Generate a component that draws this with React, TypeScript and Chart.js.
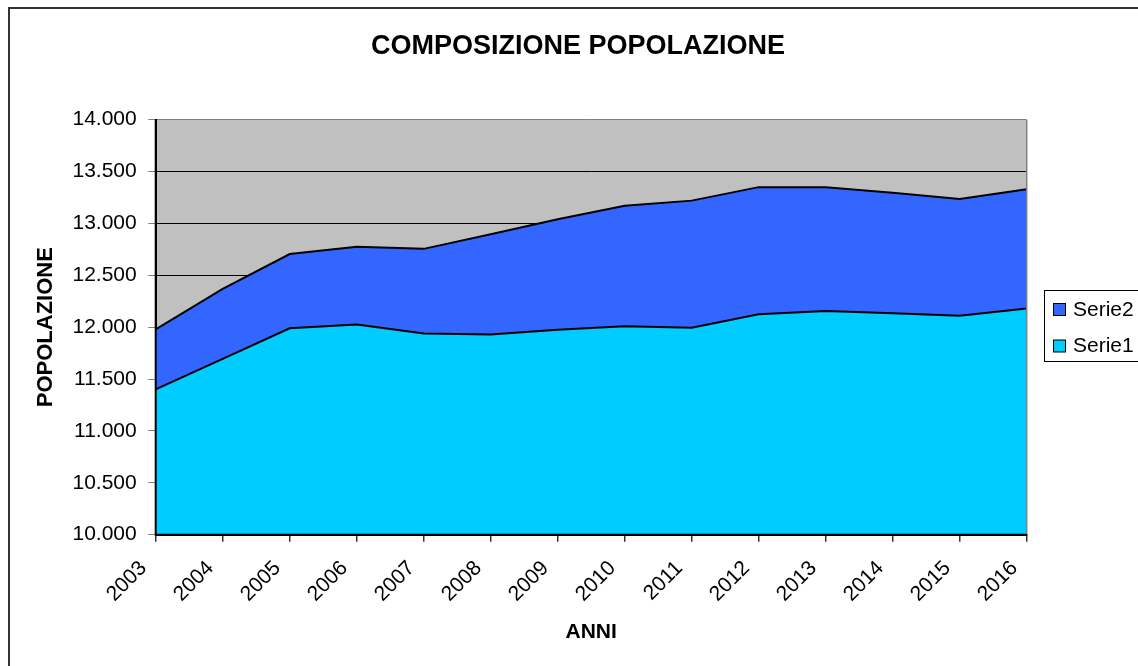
import React, { useEffect, useRef } from 'react';
import { Chart, registerables } from 'chart.js';

Chart.register(...registerables);

const years = ['2003', '2004', '2005', '2006', '2007', '2008', '2009', '2010', '2011', '2012', '2013', '2014', '2015', '2016'];
const serie1 = [11400, 11695, 11990, 12025, 11940, 11930, 11975, 12010, 11995, 12125, 12155, 12135, 12110, 12180];
const serie2 = [580, 675, 715, 750, 815, 965, 1065, 1160, 1225, 1225, 1195, 1160, 1125, 1150];
const seriesNames = ['Serie1', 'Serie2'];
const yMin = 10000;
const yMax = 14000;
const yStep = 500;
const chartTitle = 'COMPOSIZIONE POPOLAZIONE';
const xTitle = 'ANNI';
const yTitle = 'POPOLAZIONE';

const FONT = '"Liberation Sans", Arial, sans-serif';
const COLOR1 = '#00CCFF';
const COLOR2 = '#3366FF';
const PLOT_BG = '#C0C0C0';

const fmt = (v: number) => String(v).replace(/\B(?=(\d{3})+(?!\d))/g, '.');

const decor = {
  id: 'decor',
  beforeDraw(chart: any) {
    const { ctx, chartArea: a, width, height } = chart;
    ctx.save();
    ctx.fillStyle = '#fff';
    ctx.fillRect(0, 0, width, height);
    ctx.fillStyle = PLOT_BG;
    ctx.fillRect(a.left, a.top, a.right - a.left, a.bottom - a.top);
    ctx.restore();
  },
  afterDatasetsDraw(chart: any) {
    const { ctx, chartArea: a } = chart;
    ctx.save();
    ctx.strokeStyle = '#808080';
    ctx.lineWidth = 1.5;
    ctx.beginPath();
    ctx.moveTo(a.right, a.top);
    ctx.lineTo(a.right, a.bottom);
    ctx.stroke();
    ctx.strokeStyle = '#000';
    ctx.lineWidth = 2;
    ctx.beginPath();
    ctx.moveTo(a.left, a.top);
    ctx.lineTo(a.left, a.bottom);
    ctx.lineTo(a.right, a.bottom);
    ctx.stroke();
    ctx.restore();
  },
  afterDraw(chart: any) {
    const { ctx } = chart;
    ctx.save();
    // title
    ctx.fillStyle = '#000';
    ctx.font = `bold 27px ${FONT}`;
    ctx.textAlign = 'center';
    ctx.textBaseline = 'middle';
    ctx.fillText(chartTitle, 568, 38);
    // legend
    ctx.strokeStyle = '#000';
    ctx.lineWidth = 1;
    ctx.strokeRect(1034.5, 281.5, 130, 71);
    const items = chart.data.datasets.slice().reverse();
    ctx.font = `21px ${FONT}`;
    ctx.textAlign = 'left';
    items.forEach((ds: any, i: number) => {
      const y = 294.5 + i * 36.5;
      ctx.fillStyle = ds.backgroundColor;
      ctx.fillRect(1043.5, y, 12, 12);
      ctx.strokeRect(1043.5, y, 12, 12);
      ctx.fillStyle = '#000';
      ctx.fillText(ds.label, 1063, y + 6.5);
    });
    ctx.restore();
  },
};

export default function App() {
  const ref = useRef<HTMLCanvasElement>(null);
  useEffect(() => {
    if (!ref.current) return;
    const chart = new Chart(ref.current, {
      type: 'line',
      data: {
        labels: years,
        datasets: [
          {
            label: seriesNames[0],
            data: serie1,
            backgroundColor: COLOR1,
            borderColor: '#000',
            borderWidth: 2,
            pointRadius: 0,
            fill: 'start',
            tension: 0,
          },
          {
            label: seriesNames[1],
            data: serie2,
            backgroundColor: COLOR2,
            borderColor: '#000',
            borderWidth: 2,
            pointRadius: 0,
            fill: '-1',
            tension: 0,
          },
        ],
      },
      options: {
        animation: false,
        responsive: false,
        devicePixelRatio: 1,
        layout: { padding: { top: 110.7, right: 111.3, left: 0, bottom: 0 } },
        plugins: {
          legend: { display: false },
          title: { display: false },
          tooltip: { enabled: false },
          filler: { propagate: false },
        },
        scales: {
          x: {
            offset: false,
            afterFit: (s: any) => { s.height = 131.3; },
            ticks: {
              color: '#000',
              font: { family: FONT, size: 21 },
              minRotation: 45,
              maxRotation: 45,
              autoSkip: false,
              padding: 2,
              callback: (_v: any, i: number) => years[i] + '   ',
            },
            grid: { drawOnChartArea: false, tickLength: 7, tickColor: '#333', lineWidth: 1.5 },
            border: { color: '#000', width: 2 },
            title: {
              display: true,
              text: xTitle,
              color: '#000',
              font: { family: FONT, size: 21, weight: 'bold' },
              padding: { top: 0, bottom: 20.9 },
            },
          },
          y: {
            stacked: true,
            min: yMin,
            max: yMax,
            afterFit: (s: any) => { s.width = 145.7; },
            ticks: {
              stepSize: yStep,
              color: '#000',
              font: { family: FONT, size: 21 },
              padding: 11.5,
              callback: (v: any) => fmt(Number(v)),
            },
            grid: {
              color: (c: any) => (c.tick && c.tick.value === yMax ? '#808080' : '#000'),
              lineWidth: 1,
              tickLength: 7.5,
              tickColor: '#808080',
            },
            border: { color: '#000', width: 2 },
            title: {
              display: true,
              text: yTitle,
              color: '#000',
              font: { family: FONT, size: 22, weight: 'bold' },
              padding: { top: 22.3, bottom: 0 },
            },
          },
        },
      },
      plugins: [decor],
    } as any);
    return () => chart.destroy();
  }, []);

  return (
    <div
      style={{
        position: 'absolute',
        left: 8,
        top: 7,
        width: 1130,
        height: 659,
        borderLeft: '2px solid #333',
        borderTop: '2px solid #333',
        boxSizing: 'border-box',
        overflow: 'hidden',
        background: '#fff',
      }}
    >
      <canvas ref={ref} width={1128} height={657} style={{ display: 'block', width: 1128, height: 657 }} />
    </div>
  );
}
